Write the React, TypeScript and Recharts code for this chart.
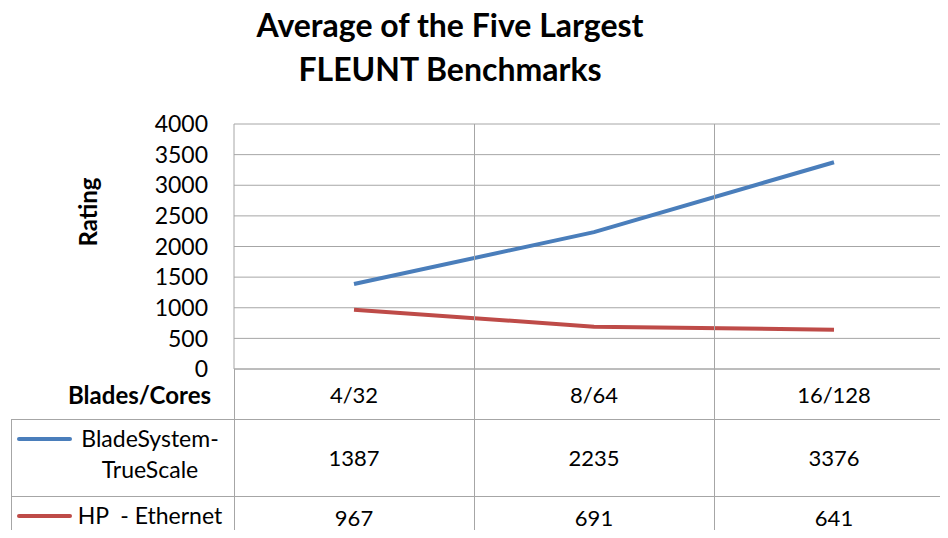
import React from 'react';
import { LineChart, Line, XAxis, YAxis, CartesianGrid } from 'recharts';

const categories = ['4/32', '8/64', '16/128'];
const trueScale = [1387, 2235, 3376];
const ethernet = [967, 691, 641];
const yTicks = [0, 500, 1000, 1500, 2000, 2500, 3000, 3500, 4000];

const seriesInfo = [
  { key: 'trueScale', lines: ['BladeSystem-', 'TrueScale'], color: '#4a7ebb', values: trueScale },
  { key: 'ethernet', lines: ['HP  - Ethernet'], color: '#be4b48', values: ethernet },
];

const data = categories.map((c, i) => ({ cat: c, trueScale: trueScale[i], ethernet: ethernet[i] }));

const FONT = 'Lato, "Open Sans", sans-serif';
const GRID = '#a6a6a6';
const PLOT_LEFT = 234;
const PLOT_TOP = 124;
const PLOT_BOTTOM = 369;
const COL_W = 240;
const ROW1_TOP = 419;
const ROW2_TOP = 496;

const App: React.FC = () => {
  return (
    <div style={{ position: 'relative', width: 948, height: 538, margin: -8, overflow: 'hidden', background: '#fff', fontFamily: FONT }}>
      <div style={{ position: 'absolute', left: 0, top: 3, width: 900, textAlign: 'center', fontWeight: 700, fontSize: 32, lineHeight: '44px', color: '#000' }}>
        Average of the Five Largest<br />FLEUNT Benchmarks
      </div>
      <div style={{ position: 'absolute', left: 0, top: 0 }}>
        <LineChart width={PLOT_LEFT + COL_W * 3} height={538} data={data} margin={{ top: PLOT_TOP, right: 0, left: 0, bottom: 0 }}>
          <CartesianGrid vertical={false} stroke={GRID} strokeWidth={1} />
          <XAxis
            dataKey="cat"
            height={538 - PLOT_BOTTOM}
            padding={{ left: COL_W / 2, right: COL_W / 2 }}
            stroke={GRID}
            tickLine={false}
            tickMargin={12}
            tick={{ fill: '#000', fontSize: 22, fontFamily: FONT }}
          />
          <YAxis
            width={PLOT_LEFT}
            domain={[0, 4000]}
            ticks={yTicks}
            interval={0}
            stroke={GRID}
            tickLine={false}
            tickMargin={20}
            tick={{ fill: '#000', fontSize: 23, fontFamily: FONT }}
            label={{ value: 'Rating', angle: -90, position: 'insideLeft', offset: 0, dx: 88, style: { fill: '#000', fontSize: 24, fontWeight: 700, fontFamily: FONT } }}
          />
          {seriesInfo.map((s) => (
            <Line key={s.key} type="linear" dataKey={s.key} stroke={s.color} strokeWidth={4} dot={false} isAnimationActive={false} />
          ))}
        </LineChart>
      </div>
      {/* table lines */}
      {[1, 2].map((i) => (
        <div key={i} style={{ position: 'absolute', left: PLOT_LEFT + COL_W * i, top: PLOT_TOP, width: 1, height: 538 - PLOT_TOP, background: GRID }} />
      ))}
      <div style={{ position: 'absolute', left: PLOT_LEFT, top: PLOT_BOTTOM, width: 1, height: 538 - PLOT_BOTTOM, background: GRID }} />
      <div style={{ position: 'absolute', left: 11, top: ROW1_TOP, width: 1, height: 538 - ROW1_TOP, background: GRID }} />
      <div style={{ position: 'absolute', left: 11, top: ROW1_TOP, width: 948, height: 1, background: GRID }} />
      <div style={{ position: 'absolute', left: 11, top: ROW2_TOP, width: 948, height: 1, background: GRID }} />
      <div style={{ position: 'absolute', left: 0, width: 211, top: PLOT_BOTTOM + 11, textAlign: 'right', fontWeight: 700, fontSize: 24, lineHeight: '30px' }}>
        Blades/Cores
      </div>
      {seriesInfo.map((s, r) => {
        const top = r === 0 ? ROW1_TOP : ROW2_TOP;
        const h = r === 0 ? ROW2_TOP - ROW1_TOP : 42;
        return (
          <React.Fragment key={s.key}>
            <div style={{ position: 'absolute', left: 17, top: top + 18, width: 55, height: 4, borderRadius: 2, background: s.color }} />
            <div style={{ position: 'absolute', left: 74, width: 152, top: top + 4, textAlign: 'center', fontSize: 23, lineHeight: '31px' }}>
              {s.lines.map((l, k) => (
                <div key={k} style={{ whiteSpace: 'pre' }}>{l}</div>
              ))}
            </div>
            {s.values.map((v, i) => (
              <div key={i} style={{ position: 'absolute', left: PLOT_LEFT + COL_W * i, width: COL_W, top, height: h, display: 'flex', alignItems: 'center', justifyContent: 'center', fontSize: 22 }}>
                {v}
              </div>
            ))}
          </React.Fragment>
        );
      })}
    </div>
  );
};

export default App;
